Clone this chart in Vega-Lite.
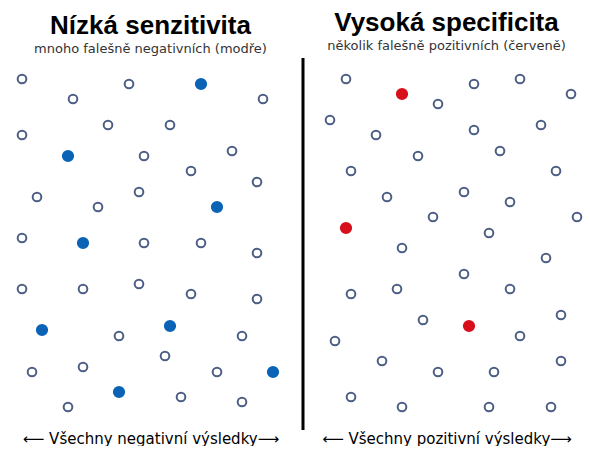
{
  "$schema": "https://vega.github.io/schema/vega-lite/v6.json",
  "padding": {"top": 9, "left": 0, "right": 0, "bottom": 0},
  "spacing": 0,
  "background": "white",
  "config": {"view": {"stroke": null}, "font": "Liberation Sans"},
  "resolve": {"scale": {"fill": "independent", "stroke": "independent", "size": "independent"}},
  "datasets": {
    "left": [
      {"x": 22, "y": 79, "typ": "správně negativní"},
      {"x": 129, "y": 84, "typ": "správně negativní"},
      {"x": 201, "y": 84, "typ": "falešně negativní"},
      {"x": 73, "y": 99, "typ": "správně negativní"},
      {"x": 263, "y": 99, "typ": "správně negativní"},
      {"x": 108, "y": 125, "typ": "správně negativní"},
      {"x": 170, "y": 125, "typ": "správně negativní"},
      {"x": 22, "y": 135, "typ": "správně negativní"},
      {"x": 68, "y": 156, "typ": "falešně negativní"},
      {"x": 144, "y": 156, "typ": "správně negativní"},
      {"x": 232, "y": 151, "typ": "správně negativní"},
      {"x": 191, "y": 171, "typ": "správně negativní"},
      {"x": 257, "y": 182, "typ": "správně negativní"},
      {"x": 37, "y": 197, "typ": "správně negativní"},
      {"x": 139, "y": 192, "typ": "správně negativní"},
      {"x": 98, "y": 207, "typ": "správně negativní"},
      {"x": 217, "y": 207, "typ": "falešně negativní"},
      {"x": 22, "y": 238, "typ": "správně negativní"},
      {"x": 83, "y": 243, "typ": "falešně negativní"},
      {"x": 144, "y": 243, "typ": "správně negativní"},
      {"x": 201, "y": 243, "typ": "správně negativní"},
      {"x": 257, "y": 253, "typ": "správně negativní"},
      {"x": 22, "y": 289, "typ": "správně negativní"},
      {"x": 83, "y": 289, "typ": "správně negativní"},
      {"x": 139, "y": 284, "typ": "správně negativní"},
      {"x": 191, "y": 294, "typ": "správně negativní"},
      {"x": 257, "y": 299, "typ": "správně negativní"},
      {"x": 42, "y": 330, "typ": "falešně negativní"},
      {"x": 170, "y": 326, "typ": "falešně negativní"},
      {"x": 119, "y": 336, "typ": "správně negativní"},
      {"x": 242, "y": 336, "typ": "správně negativní"},
      {"x": 32, "y": 372, "typ": "správně negativní"},
      {"x": 83, "y": 367, "typ": "správně negativní"},
      {"x": 165, "y": 356, "typ": "správně negativní"},
      {"x": 217, "y": 372, "typ": "správně negativní"},
      {"x": 273, "y": 372, "typ": "falešně negativní"},
      {"x": 119, "y": 392, "typ": "falešně negativní"},
      {"x": 181, "y": 397, "typ": "správně negativní"},
      {"x": 242, "y": 402, "typ": "správně negativní"},
      {"x": 68, "y": 407, "typ": "správně negativní"}
    ],
    "right": [
      {"x": 345, "y": 79, "typ": "správně pozitivní"},
      {"x": 401, "y": 94, "typ": "falešně pozitivní"},
      {"x": 473, "y": 84, "typ": "správně pozitivní"},
      {"x": 519, "y": 79, "typ": "správně pozitivní"},
      {"x": 570, "y": 94, "typ": "správně pozitivní"},
      {"x": 437, "y": 104, "typ": "správně pozitivní"},
      {"x": 329, "y": 120, "typ": "správně pozitivní"},
      {"x": 375, "y": 135, "typ": "správně pozitivní"},
      {"x": 473, "y": 130, "typ": "správně pozitivní"},
      {"x": 540, "y": 125, "typ": "správně pozitivní"},
      {"x": 417, "y": 156, "typ": "správně pozitivní"},
      {"x": 499, "y": 151, "typ": "správně pozitivní"},
      {"x": 350, "y": 171, "typ": "správně pozitivní"},
      {"x": 555, "y": 171, "typ": "správně pozitivní"},
      {"x": 386, "y": 197, "typ": "správně pozitivní"},
      {"x": 463, "y": 192, "typ": "správně pozitivní"},
      {"x": 509, "y": 202, "typ": "správně pozitivní"},
      {"x": 432, "y": 217, "typ": "správně pozitivní"},
      {"x": 576, "y": 217, "typ": "správně pozitivní"},
      {"x": 345, "y": 228, "typ": "falešně pozitivní"},
      {"x": 488, "y": 233, "typ": "správně pozitivní"},
      {"x": 401, "y": 248, "typ": "správně pozitivní"},
      {"x": 545, "y": 258, "typ": "správně pozitivní"},
      {"x": 463, "y": 274, "typ": "správně pozitivní"},
      {"x": 350, "y": 294, "typ": "správně pozitivní"},
      {"x": 396, "y": 289, "typ": "správně pozitivní"},
      {"x": 509, "y": 289, "typ": "správně pozitivní"},
      {"x": 422, "y": 320, "typ": "správně pozitivní"},
      {"x": 468, "y": 326, "typ": "falešně pozitivní"},
      {"x": 560, "y": 315, "typ": "správně pozitivní"},
      {"x": 334, "y": 341, "typ": "správně pozitivní"},
      {"x": 519, "y": 336, "typ": "správně pozitivní"},
      {"x": 381, "y": 361, "typ": "správně pozitivní"},
      {"x": 437, "y": 372, "typ": "správně pozitivní"},
      {"x": 493, "y": 372, "typ": "správně pozitivní"},
      {"x": 560, "y": 361, "typ": "správně pozitivní"},
      {"x": 350, "y": 397, "typ": "správně pozitivní"},
      {"x": 401, "y": 407, "typ": "správně pozitivní"},
      {"x": 488, "y": 407, "typ": "správně pozitivní"},
      {"x": 550, "y": 407, "typ": "správně pozitivní"}
    ]
  },
  "hconcat": [
    {
      "width": 301,
      "height": 368,
      "title": {
        "text": "Nízká senzitivita",
        "subtitle": "mnoho falešně negativních (modře)",
        "fontSize": 26,
        "font": "Liberation Sans",
        "fontWeight": "bold",
        "color": "#000000",
        "subtitleFontSize": 13,
        "subtitleFont": "DejaVu Sans",
        "subtitleColor": "#333333",
        "subtitlePadding": 4,
        "anchor": "middle",
        "offset": 4
      },
      "data": {"name": "left"},
      "mark": {"type": "point", "filled": true, "strokeWidth": 2},
      "encoding": {
        "x": {
          "field": "x", "type": "quantitative",
          "scale": {"domain": [0, 301], "nice": false, "zero": false},
          "axis": {"domain": false, "ticks": false, "labels": false, "grid": false,
                   "title": "⟵ Všechny negativní výsledky⟶", "titleFontSize": 15, "titleFontWeight": "normal",
                   "titleColor": "#000000", "titlePadding": 3, "titleFont": "DejaVu Sans"}
        },
        "y": {
          "field": "y", "type": "quantitative",
          "scale": {"domain": [428, 60], "nice": false, "zero": false},
          "axis": null
        },
        "fill": {
          "field": "typ", "type": "nominal",
          "scale": {"domain": ["správně negativní", "falešně negativní"], "range": ["#ffffff", "#0b63b5"]},
          "legend": null
        },
        "stroke": {
          "field": "typ", "type": "nominal",
          "scale": {"domain": ["správně negativní", "falešně negativní"], "range": ["#4d5f85", "#0b63b5"]},
          "legend": null
        },
        "size": {
          "field": "typ", "type": "nominal",
          "scale": {"domain": ["správně negativní", "falešně negativní"], "range": [75, 105]},
          "legend": null
        },
        "opacity": {"value": 1}
      }
    },
    {
      "width": 289,
      "height": 368,
      "title": {
        "text": "Vysoká specificita",
        "subtitle": "několik falešně pozitivních (červeně)",
        "fontSize": 26,
        "font": "Liberation Sans",
        "fontWeight": "bold",
        "color": "#000000",
        "subtitleFontSize": 13,
        "subtitleFont": "DejaVu Sans",
        "subtitleColor": "#333333",
        "subtitlePadding": 4,
        "anchor": "middle",
        "offset": 4
      },
      "layer": [
        {
          "data": {"values": [{"x": 302, "y": 58, "y2": 430}]},
          "mark": {"type": "rule", "strokeWidth": 3, "color": "#000000"},
          "encoding": {
            "x": {"field": "x", "type": "quantitative"},
            "y": {"field": "y", "type": "quantitative"},
            "y2": {"field": "y2"}
          }
        },
        {
          "data": {"name": "right"},
          "mark": {"type": "point", "filled": true, "strokeWidth": 2},
          "encoding": {
            "x": {"field": "x", "type": "quantitative"},
            "y": {"field": "y", "type": "quantitative"},
            "fill": {
              "field": "typ", "type": "nominal",
              "scale": {"domain": ["správně pozitivní", "falešně pozitivní"], "range": ["#ffffff", "#d8101c"]},
              "legend": null
            },
            "stroke": {
              "field": "typ", "type": "nominal",
              "scale": {"domain": ["správně pozitivní", "falešně pozitivní"], "range": ["#4d5f85", "#d8101c"]},
              "legend": null
            },
            "size": {
              "field": "typ", "type": "nominal",
              "scale": {"domain": ["správně pozitivní", "falešně pozitivní"], "range": [75, 105]},
              "legend": null
            },
            "opacity": {"value": 1}
          }
        }
      ],
      "encoding": {
        "x": {
          "type": "quantitative",
          "scale": {"domain": [301, 590], "nice": false, "zero": false},
          "axis": {"domain": false, "ticks": false, "labels": false, "grid": false,
                   "title": "⟵ Všechny pozitivní výsledky⟶", "titleFontSize": 15, "titleFontWeight": "normal",
                   "titleColor": "#000000", "titlePadding": 3, "titleFont": "DejaVu Sans"}
        },
        "y": {
          "type": "quantitative",
          "scale": {"domain": [428, 60], "nice": false, "zero": false},
          "axis": null
        }
      }
    }
  ]
}
